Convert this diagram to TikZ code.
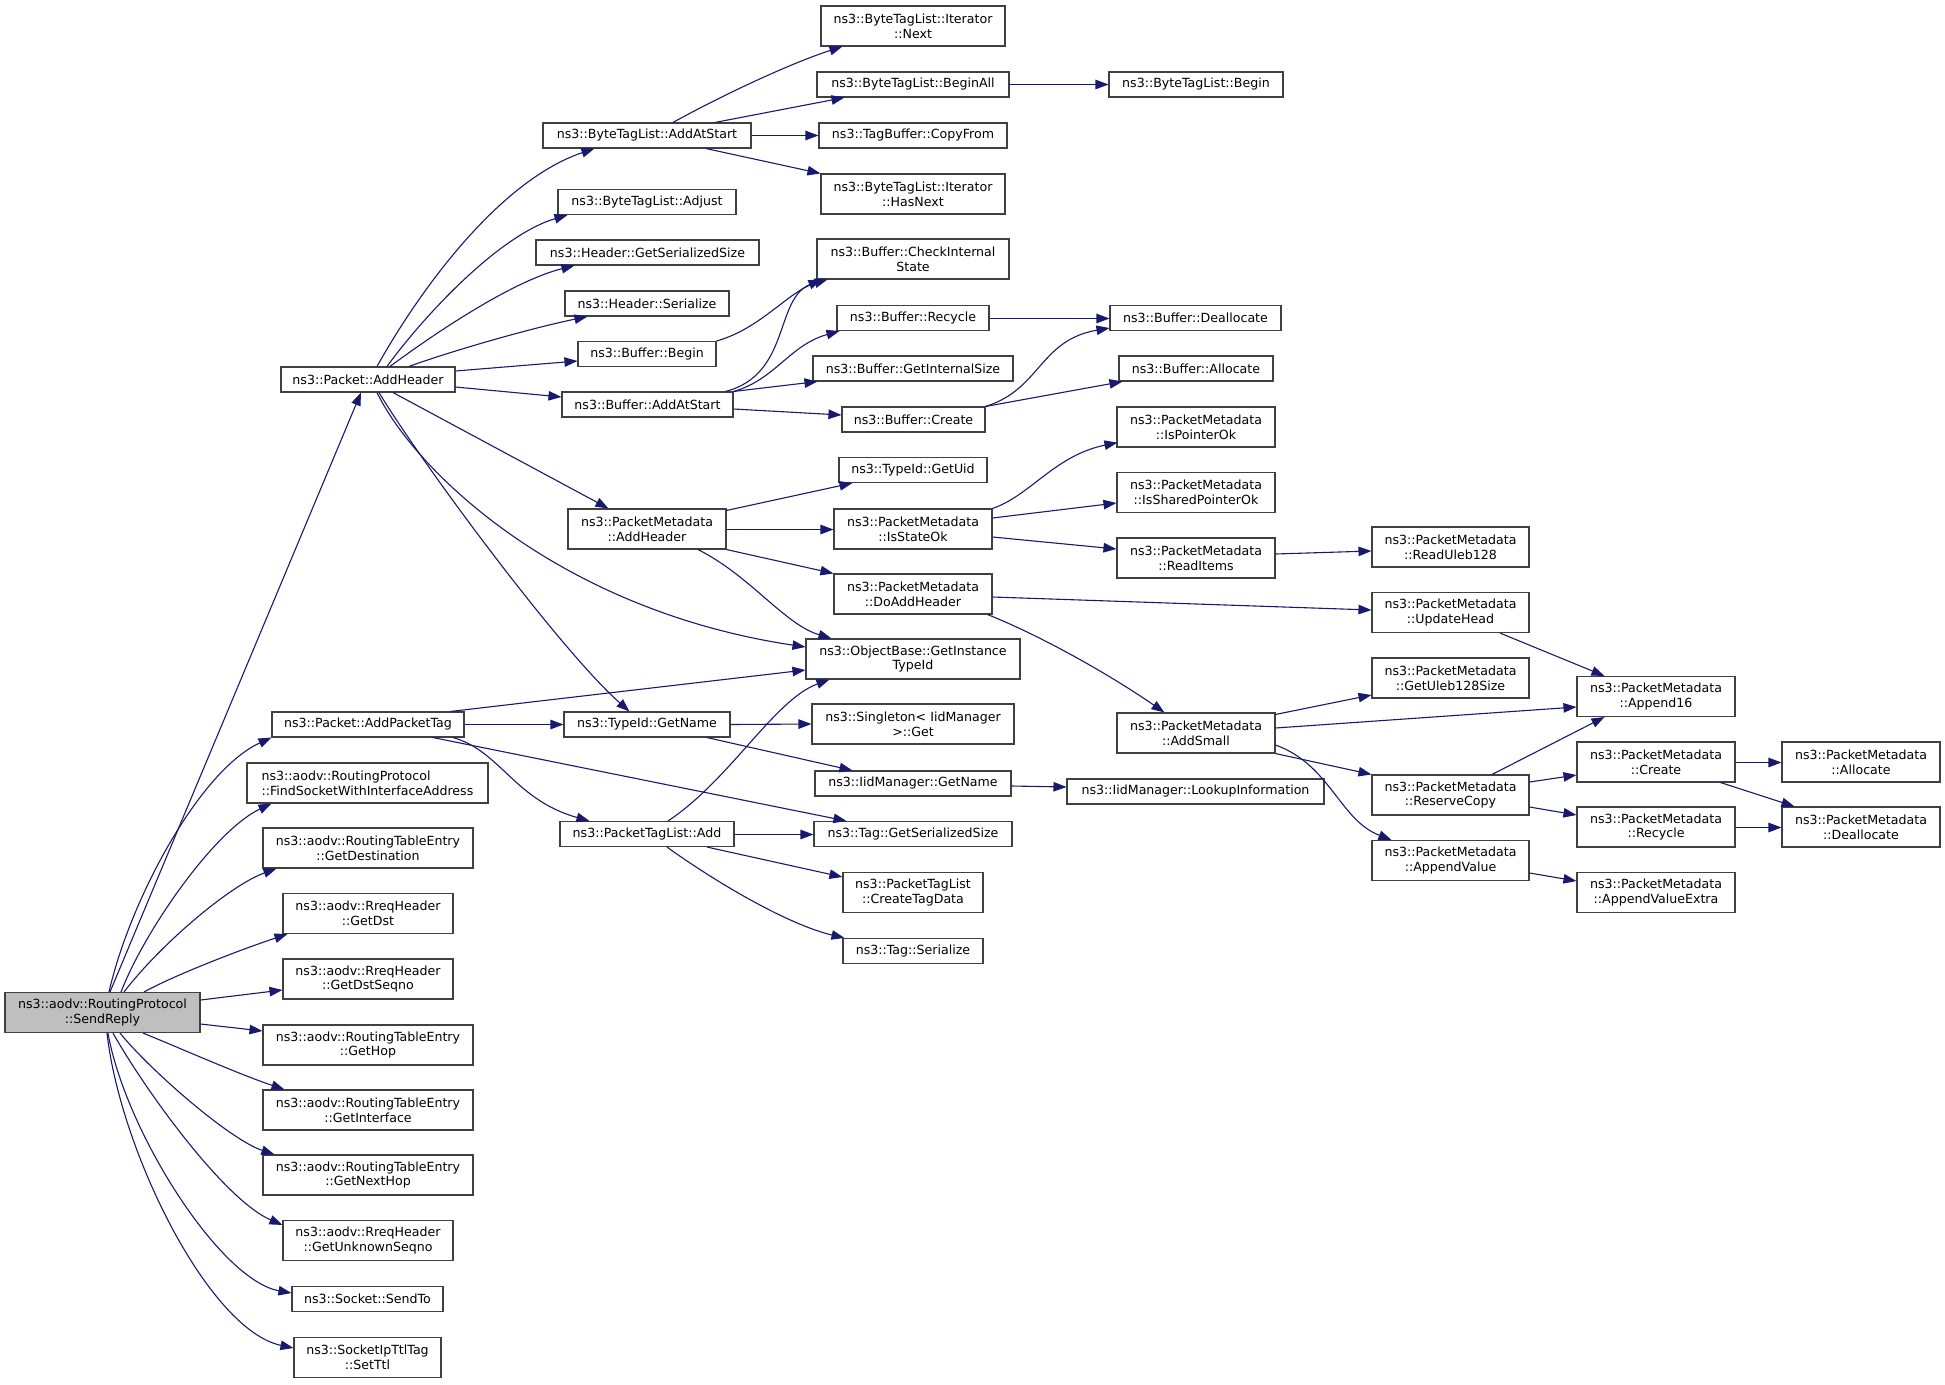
\documentclass[tikz,border=0pt]{standalone}
\usepackage{fontspec}
\setmainfont{DejaVu Sans}
\usetikzlibrary{arrows.meta,calc}
\definecolor{edgeblue}{HTML}{191970}
\definecolor{boxline}{HTML}{404040}
\definecolor{rootfill}{HTML}{BFBFBF}
\tikzset{
  fn/.style={draw=boxline, line width=1.1pt, fill=white, inner sep=0pt,
    minimum height=25pt, align=center, font=\fontsize{12.6pt}{14.7pt}\selectfont},
  fntwo/.style={fn, minimum height=40pt},
  call/.style={draw=edgeblue, line width=1.1pt, -{Triangle[length=13pt,width=9.5pt,fill=edgeblue]}},
}
\begin{document}
\begin{tikzpicture}[x=1pt,y=-1pt]
\useasboundingbox (0,0) rectangle (1945,1384);
\fill[white] (0,0) rectangle (1945,1384);
% column 0
\node[fntwo, fill=rootfill, minimum width=195pt] (sr) at (102.5,1012.5) {ns3::aodv::RoutingProtocol\\::SendReply};
% column 1
\node[fn, minimum width=174pt] (pah) at (368,379.5) {ns3::Packet::AddHeader};
\node[fn, minimum width=192pt] (papt) at (368,724.5) {ns3::Packet::AddPacketTag};
\node[fntwo, align=left, minimum width=241pt] (fsia) at (367.5,783) {ns3::aodv::RoutingProtocol\\::FindSocketWithInterfaceAddress};
\node[fntwo, minimum width=210pt] (gdest) at (368,848) {ns3::aodv::RoutingTableEntry\\::GetDestination};
\node[fntwo, minimum width=170pt] (gdst) at (368,913.5) {ns3::aodv::RreqHeader\\::GetDst};
\node[fntwo, minimum width=170pt] (gdsq) at (368,979) {ns3::aodv::RreqHeader\\::GetDstSeqno};
\node[fntwo, minimum width=210pt] (ghop) at (368,1045) {ns3::aodv::RoutingTableEntry\\::GetHop};
\node[fntwo, minimum width=210pt] (gif) at (368,1110) {ns3::aodv::RoutingTableEntry\\::GetInterface};
\node[fntwo, minimum width=210pt] (gnh) at (368,1175) {ns3::aodv::RoutingTableEntry\\::GetNextHop};
\node[fntwo, minimum width=170pt] (gus) at (368,1240.5) {ns3::aodv::RreqHeader\\::GetUnknownSeqno};
\node[fn, minimum width=151pt] (sto) at (367.5,1299) {ns3::Socket::SendTo};
\node[fntwo, minimum width=147pt] (sttl) at (367.5,1357.5) {ns3::SocketIpTtlTag\\::SetTtl};
% column 2
\node[fn, minimum width=208pt] (btlaas) at (647,135.5) {ns3::ByteTagList::AddAtStart};
\node[fn, minimum width=178pt] (btladj) at (647,202) {ns3::ByteTagList::Adjust};
\node[fn, minimum width=223pt] (hgss) at (647.5,252.5) {ns3::Header::GetSerializedSize};
\node[fn, minimum width=164pt] (hser) at (647,303.5) {ns3::Header::Serialize};
\node[fn, minimum width=138pt] (bbeg) at (647,354) {ns3::Buffer::Begin};
\node[fn, minimum width=171pt] (baas) at (647.5,404.5) {ns3::Buffer::AddAtStart};
\node[fntwo, minimum width=158pt] (pmah) at (647,529) {ns3::PacketMetadata\\::AddHeader};
\node[fn, minimum width=166pt] (tgn) at (647,724.5) {ns3::TypeId::GetName};
\node[fn, minimum width=174pt] (ptla) at (647,834) {ns3::PacketTagList::Add};
% column 3
\node[fntwo, minimum width=184pt] (itn) at (913,26) {ns3::ByteTagList::Iterator\\::Next};
\node[fn, minimum width=192pt] (btlba) at (913,84.5) {ns3::ByteTagList::BeginAll};
\node[fn, minimum width=188pt] (tbcf) at (913,135.5) {ns3::TagBuffer::CopyFrom};
\node[fntwo, minimum width=184pt] (ithn) at (913,194) {ns3::ByteTagList::Iterator\\::HasNext};
\node[fntwo, minimum width=192pt] (bcis) at (913,259) {ns3::Buffer::CheckInternal\\State};
\node[fn, minimum width=152pt] (brec) at (913,318) {ns3::Buffer::Recycle};
\node[fn, minimum width=200pt] (bgis) at (913,368.5) {ns3::Buffer::GetInternalSize};
\node[fn, minimum width=143pt] (bcre) at (913.5,419.5) {ns3::Buffer::Create};
\node[fn, minimum width=148pt] (tgu) at (913,470) {ns3::TypeId::GetUid};
\node[fntwo, minimum width=158pt] (pmiso) at (913,529) {ns3::PacketMetadata\\::IsStateOk};
\node[fntwo, minimum width=158pt] (pmdah) at (913,594) {ns3::PacketMetadata\\::DoAddHeader};
\node[fntwo, minimum width=214pt] (ogit) at (913,659) {ns3::ObjectBase::GetInstance\\TypeId};
\node[fntwo, minimum width=202pt] (sig) at (913,724) {ns3::Singleton< IidManager\\ >::Get};
\node[fn, minimum width=196pt] (iign) at (913,783.5) {ns3::IidManager::GetName};
\node[fn, minimum width=198pt] (tgss) at (913,834) {ns3::Tag::GetSerializedSize};
\node[fntwo, minimum width=140pt] (ptlctd) at (913,892.5) {ns3::PacketTagList\\::CreateTagData};
\node[fn, minimum width=140pt] (tser) at (913,951) {ns3::Tag::Serialize};
% column 4
\node[fn, minimum width=174pt] (btlb) at (1196,84.5) {ns3::ByteTagList::Begin};
\node[fn, minimum width=171pt] (bdea) at (1195.5,318) {ns3::Buffer::Deallocate};
\node[fn, minimum width=154pt] (ball) at (1196,368.5) {ns3::Buffer::Allocate};
\node[fntwo, minimum width=158pt] (pmipo) at (1196,427) {ns3::PacketMetadata\\::IsPointerOk};
\node[fntwo, minimum width=158pt] (pmispo) at (1196,492.5) {ns3::PacketMetadata\\::IsSharedPointerOk};
\node[fntwo, minimum width=158pt] (pmri) at (1196,558) {ns3::PacketMetadata\\::ReadItems};
\node[fntwo, minimum width=158pt] (pmas) at (1196,733) {ns3::PacketMetadata\\::AddSmall};
\node[fn, minimum width=257pt] (iili) at (1195.5,791.5) {ns3::IidManager::LookupInformation};
% column 5
\node[fntwo, minimum width=157pt] (pmru) at (1450.5,547) {ns3::PacketMetadata\\::ReadUleb128};
\node[fntwo, minimum width=157pt] (pmuh) at (1450.5,612.5) {ns3::PacketMetadata\\::UpdateHead};
\node[fntwo, minimum width=157pt] (pmgus) at (1450.5,678) {ns3::PacketMetadata\\::GetUleb128Size};
\node[fntwo, minimum width=157pt] (pmrc) at (1450.5,795) {ns3::PacketMetadata\\::ReserveCopy};
\node[fntwo, minimum width=157pt] (pmav) at (1450.5,860.5) {ns3::PacketMetadata\\::AppendValue};
% column 6
\node[fntwo, minimum width=158pt] (pma16) at (1656,696.5) {ns3::PacketMetadata\\::Append16};
\node[fntwo, minimum width=158pt] (pmcr) at (1656,762) {ns3::PacketMetadata\\::Create};
\node[fntwo, minimum width=158pt] (pmrec) at (1656,827) {ns3::PacketMetadata\\::Recycle};
\node[fntwo, minimum width=158pt] (pmave) at (1656,892.5) {ns3::PacketMetadata\\::AppendValueExtra};
% column 7
\node[fntwo, minimum width=158pt] (pmal) at (1861,762) {ns3::PacketMetadata\\::Allocate};
\node[fntwo, minimum width=158pt] (pmdea) at (1861,827) {ns3::PacketMetadata\\::Deallocate};

% edges from SendReply
\draw[call] ($(sr.north)+(7.5,0)$) -- ($(pah.south)+(-7,0)$);
\draw[call] ($(sr.north)+(6.5,0)$) .. controls +(21,-92) and +(-72,33) .. (papt.south west);
\draw[call] ($(sr.north)+(18.5,0)$) .. controls +(24,-62) and +(-57,27) .. ($(fsia.south west)+(25,0)$);
\draw[call] ($(sr.north)+(21.5,0)$) .. controls +(36,-47) and +(-47,17) .. ($(gdest.south west)+(14,0)$);
\draw[call] ($(sr.north)+(41.5,0)$) .. controls +(31,-17) and +(-48,16) .. ($(gdst.south west)+(5,0)$);
\draw[call] ($(sr.east)+(0,-12.5)$) -- ($(gdsq.west)+(0,11)$);
\draw[call] ($(sr.east)+(0,11.5)$) -- ($(ghop.west)+(0,-14)$);
\draw[call] ($(sr.south)+(40.5,0)$) .. controls +(37,15) and +(-45,-15) .. ($(gif.north west)+(22,0)$);
\draw[call] ($(sr.south)+(17.5,0)$) .. controls +(30,37) and +(-45,-15) .. ($(gnh.north west)+(12,0)$);
\draw[call] ($(sr.south)+(10.5,0)$) .. controls +(32,57) and +(-58,-25) .. ($(gus.north west)+(0,5)$);
\draw[call] ($(sr.south)+(5.5,0)$) .. controls +(17,97) and +(-72,-13) .. ($(sto.west)+(0,-6)$);
\draw[call] ($(sr.south)+(4.5,0)$) .. controls +(13,117) and +(-85,-18) .. ($(sttl.west)+(0,-9.5)$);
% edges from Packet::AddHeader
\draw[call] ($(pah.north)+(9,0)$) .. controls +(43,-77) and +(-95,32) .. ($(btlaas.south west)+(52,0)$);
\draw[call] ($(pah.north)+(19,0)$) .. controls +(38,-52) and +(-68,20) .. ($(btladj.south west)+(10,0)$);
\draw[call] ($(pah.north)+(22,0)$) .. controls +(50,-37) and +(-60,15) .. ($(hgss.south west)+(39,0)$);
\draw[call] ($(pah.north)+(41,0)$) .. controls +(41,-15) and +(-58,12) .. ($(hser.south west)+(23,0)$);
\draw[call] ($(pah.east)+(0,-8.5)$) -- ($(bbeg.west)+(0,7)$);
\draw[call] ($(pah.east)+(0,7.5)$) -- ($(baas.west)+(0,-7.5)$);
\draw[call] ($(pah.south)+(25,0)$) -- ($(pmah.north west)+(41,0)$);
\draw[call] ($(pah.south)+(9,0)$) .. controls +(38,78) and +(-247,-37) .. ($(ogit.west)+(0,-12)$);
\draw[call] ($(pah.south)+(11,0)$) .. controls +(41,68) and +(-70,-62) .. ($(tgn.north west)+(66,0)$);
% ByteTagList
\draw[call] ($(btlaas.north)+(26,0)$) .. controls +(47,-26) and +(-53,17) .. ($(itn.south west)+(22,0)$);
\draw[call] ($(btlaas.north)+(68,0)$) -- ($(btlba.south west)+(28,0)$);
\draw[call] (btlaas.east) -- (tbcf.west);
\draw[call] ($(btlaas.south)+(59,0)$) -- (ithn.north west);
\draw[call] (btlba.east) -- (btlb.west);
% Buffer
\draw[call] (bbeg.north east) .. controls +(44,-12) and +(-38,11) .. ($(bcis.south west)+(11,0)$);
\draw[call] ($(baas.north east)+(-8,0)$) .. controls +(65,-17) and +(-47,20) .. ($(bcis.south west)+(5,0)$);
\draw[call] (baas.north east) .. controls +(42,-12) and +(-50,14) .. ($(brec.south west)+(3,0)$);
\draw[call] (baas.north east) -- ($(bgis.south west)+(5,0)$);
\draw[call] ($(baas.east)+(0,4.5)$) -- ($(bcre.west)+(0,-4.5)$);
\draw[call] ($(brec.east)+(0,0.5)$) -- ($(bdea.west)+(0,0.5)$);
\draw[call] (bcre.north east) .. controls +(55,-17) and +(-70,12) .. ($(bdea.south west)+(0,-3)$);
\draw[call] (bcre.north east) -- ($(ball.south west)+(4,0)$);
% PacketMetadata
\draw[call] ($(pmah.north east)+(0,2)$) -- ($(tgu.south west)+(14,0)$);
\draw[call] ($(pmah.east)+(0,0.5)$) -- ($(pmiso.west)+(0,0.5)$);
\draw[call] (pmah.south east) -- (pmdah.north west);
\draw[call] ($(pmah.south)+(51,0)$) .. controls +(52,26) and +(-47,-14) .. ($(ogit.north west)+(26,0)$);
\draw[call] (pmiso.north east) .. controls +(38,-13) and +(-63,13) .. ($(pmipo.south west)+(1,-5)$);
\draw[call] ($(pmiso.east)+(0,-11)$) -- ($(pmispo.west)+(0,10.5)$);
\draw[call] ($(pmiso.east)+(0,8)$) -- ($(pmri.west)+(0,-9)$);
\draw[call] ($(pmri.east)+(0,-4)$) -- ($(pmru.west)+(0,4)$);
\draw[call] ($(pmdah.east)+(0,3)$) -- ($(pmuh.west)+(0,-2.5)$);
\draw[call] ($(pmdah.south east)+(-5,0)$) .. controls +(53,21) and +(-55,-38) .. ($(pmas.north west)+(48,0)$);
\draw[call] ($(pmuh.south)+(49.5,0)$) -- ($(pma16.north west)+(28,0)$);
\draw[call] ($(pmas.north east)+(0,2)$) -- ($(pmgus.west)+(0,17)$);
\draw[call] ($(pmas.east)+(0,-5)$) -- ($(pma16.west)+(0,10.5)$);
\draw[call] (pmas.south east) -- (pmrc.north west);
\draw[call] ($(pmas.east)+(0,12)$) .. controls +(55,20) and +(-52,-20) .. ($(pmav.north west)+(20,0)$);
\draw[call] ($(pmrc.north)+(41.5,0)$) -- ($(pma16.south west)+(28,0)$);
\draw[call] ($(pmrc.east)+(0,-13)$) -- ($(pmcr.west)+(0,13)$);
\draw[call] ($(pmrc.east)+(0,12)$) -- ($(pmrec.west)+(0,-12)$);
\draw[call] ($(pmav.east)+(0,12.5)$) -- ($(pmave.west)+(0,-11.5)$);
\draw[call] ($(pmcr.east)+(0,0.5)$) -- ($(pmal.west)+(0,0.5)$);
\draw[call] ($(pmcr.south east)+(-15,0)$) -- ($(pmdea.north west)+(13,0)$);
\draw[call] ($(pmrec.east)+(0,0.5)$) -- ($(pmdea.west)+(0,0.5)$);
% TypeId / IidManager
\draw[call] (tgn.east) -- (sig.west);
\draw[call] ($(tgn.south)+(60,0)$) -- ($(iign.north west)+(38,0)$);
\draw[call] ($(iign.east)+(0,2.5)$) -- ($(iili.west)+(0,-4.5)$);
% AddPacketTag
\draw[call] ($(papt.north east)+(-14,0)$) -- ($(ogit.west)+(0,11)$);
\draw[call] (papt.east) -- (tgn.west);
\draw[call] ($(papt.south)+(65,0)$) -- ($(tgss.north west)+(33,0)$);
\draw[call] ($(papt.south)+(85,0)$) .. controls +(47,13) and +(-75,-21) .. ($(ptla.north west)+(30,0)$);
% PacketTagList::Add
\draw[call] ($(ptla.north)+(21,0)$) .. controls +(62,-41) and +(-55,20) .. ($(ogit.south west)+(24,0)$);
\draw[call] ($(ptla.east)+(0,0.5)$) -- ($(tgss.west)+(0,0.5)$);
\draw[call] ($(ptla.south)+(60,0)$) -- ($(ptlctd.west)+(0,-15.5)$);
\draw[call] ($(ptla.south)+(20,0)$) .. controls +(53,38) and +(-55,-13) .. ($(tser.north west)+(2,0)$);
\end{tikzpicture}
\end{document}
